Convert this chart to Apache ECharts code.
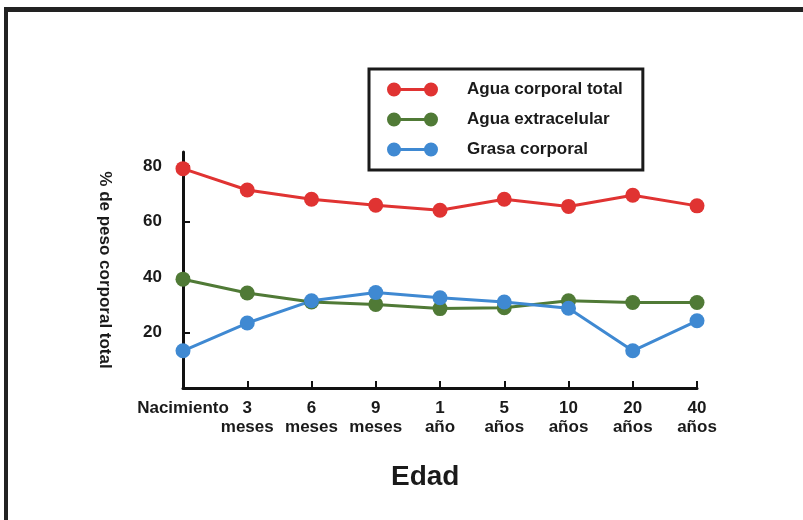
<!DOCTYPE html>
<html>
<head>
<meta charset="utf-8">
<script src="https://cdn.jsdelivr.net/npm/echarts@6/dist/echarts.min.js"></script>
<style>
  html, body { margin: 0; padding: 0; background: #fff; }
  #chart { position: absolute; left: 0; top: 0; width: 803px; height: 520px; }
  #frame {
    position: absolute; left: 4px; top: 7px; width: 799px; height: 513px;
    border-top: 5px solid #222; border-left: 4px solid #222;
    box-sizing: border-box; pointer-events: none;
  }
</style>
</head>
<body>
<div id="chart"></div>
<div id="frame"></div>
<script>
const edades = ['Nacimiento', '3\nmeses', '6\nmeses', '9\nmeses', '1\naño', '5\naños', '10\naños', '20\naños', '40\naños']
const aguaTotal = [79, 71.3, 68, 65.8, 64, 68, 65.4, 69.4, 65.6]
const aguaExtra = [39.2, 34.2, 31, 30.1, 28.6, 28.9, 31.4, 30.8, 30.8]
const grasa = [13.4, 23.4, 31.4, 34.4, 32.5, 31, 28.7, 13.4, 24.2]
const yTicks = [20, 40, 60, 80]

const font = 'Liberation Sans, Arial, sans-serif'
// two dots joined by a bar, like the legend keys in the figure
const legendIcon = 'path://M0,7A7,7 0 1,1 14,7A7,7 0 1,1 0,7Z M7,5.5L44,5.5L44,8.5L7,8.5Z M37,7A7,7 0 1,1 51,7A7,7 0 1,1 37,7Z'

function makeSeries(name, data, color) {
  return {
    name: name,
    type: 'line',
    data: data,
    symbol: 'circle',
    symbolSize: 15,
    showSymbol: true,
    lineStyle: { width: 3, color: color },
    itemStyle: { color: color },
    emphasis: { disabled: true }
  }
}

const chart = echarts.init(document.getElementById('chart'))
chart.setOption({
  animation: false,
  backgroundColor: '#fff',
  title: {
    text: 'Edad',
    left: 386,
    top: 458,
    textStyle: { fontFamily: font, fontWeight: 'bold', fontSize: 28, color: '#1a1a1a' }
  },
  legend: {
    orient: 'vertical',
    left: 369,
    top: 69,
    icon: legendIcon,
    itemWidth: 51,
    itemHeight: 14,
    itemGap: 13,
    padding: [12, 20, 12, 18],
    borderColor: '#1a1a1a',
    borderWidth: 3,
    textStyle: { fontFamily: font, fontWeight: 'bold', fontSize: 17, color: '#1a1a1a', padding: [0, 0, 0, 24] },
    data: ['Agua corporal total', 'Agua extracelular', 'Grasa corporal']
  },
  grid: { left: 183, right: 106, top: 152, bottom: 132 },
  xAxis: {
    type: 'category',
    data: edades,
    boundaryGap: false,
    axisLine: { lineStyle: { color: '#111', width: 3 } },
    axisTick: { inside: true, length: 7, interval: 0, lineStyle: { color: '#111', width: 2 } },
    axisLabel: {
      interval: 0,
      margin: 11,
      fontFamily: font,
      fontWeight: 'bold',
      fontSize: 17,
      lineHeight: 19,
      color: '#1a1a1a'
    },
    splitLine: { show: false }
  },
  yAxis: {
    type: 'value',
    min: 0,
    max: 85,
    name: '% de peso corporal total',
    nameLocation: 'middle',
    nameRotate: -90,
    nameGap: 70,
    nameTextStyle: { fontFamily: font, fontWeight: 'bold', fontSize: 17, color: '#1a1a1a' },
    axisLine: { show: true, lineStyle: { color: '#111', width: 3 } },
    axisTick: { show: true, inside: true, length: 7, customValues: yTicks, lineStyle: { color: '#111', width: 2 } },
    axisLabel: {
      margin: 21,
      customValues: yTicks,
      fontFamily: font,
      fontWeight: 'bold',
      fontSize: 17,
      color: '#1a1a1a'
    },
    splitLine: { show: false }
  },
  series: [
    makeSeries('Agua corporal total', aguaTotal, '#e03332'),
    makeSeries('Agua extracelular', aguaExtra, '#507a36'),
    makeSeries('Grasa corporal', grasa, '#3f89d2')
  ]
})
</script>
</body>
</html>
